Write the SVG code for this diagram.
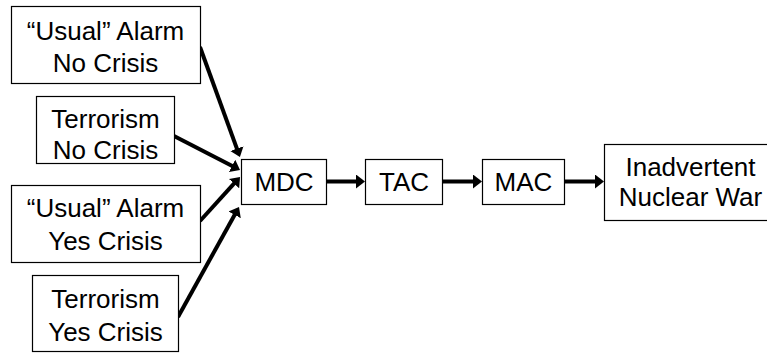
<svg xmlns="http://www.w3.org/2000/svg" width="767" height="353" viewBox="0 0 767 353">
<style>
.box{fill:#fff;stroke:#000;stroke-width:1.2}
.t{font-family:"Liberation Sans",Arial,sans-serif;font-size:26px;fill:#000;text-anchor:middle}
.c{stroke:#000;stroke-width:4;fill:none;marker-end:url(#ah)}
</style>
<defs>
<marker id="ah" markerUnits="userSpaceOnUse" markerWidth="12" markerHeight="14" refX="3" refY="7" orient="auto" viewBox="0 0 12 14">
<path d="M0,0 L9,7 L0,14 z" fill="#000"/>
</marker>
</defs>
<g id="connectors">
<line class="c" x1="200" y1="47" x2="237.9" y2="151.4"/>
<line class="c" x1="174" y1="136" x2="234.7" y2="167.3"/>
<line class="c" x1="200" y1="221" x2="236" y2="181.4"/>
<line class="c" x1="178" y1="317" x2="236.1" y2="212.2"/>
<line class="c" x1="326" y1="181.5" x2="359" y2="181.5"/>
<line class="c" x1="442" y1="181.5" x2="476" y2="181.5"/>
<line class="c" x1="564" y1="181.5" x2="598" y2="181.5"/>
</g>
<g id="usual-no">
<rect class="box" x="11.5" y="6.5" width="189" height="77"/>
<text class="t" x="105.5" y="39.5">“Usual” Alarm</text>
<text class="t" x="105.5" y="71.5">No Crisis</text>
</g>
<g id="terror-no">
<rect class="box" x="36.5" y="96.5" width="138" height="67"/>
<text class="t" x="105.5" y="127.5">Terrorism</text>
<text class="t" x="105.5" y="159">No Crisis</text>
</g>
<g id="usual-yes">
<rect class="box" x="11.5" y="185.5" width="189" height="77"/>
<text class="t" x="105.5" y="217">“Usual” Alarm</text>
<text class="t" x="105.5" y="250">Yes Crisis</text>
</g>
<g id="terror-yes">
<rect class="box" x="32.5" y="275.5" width="146" height="76"/>
<text class="t" x="105.5" y="308">Terrorism</text>
<text class="t" x="105.5" y="341">Yes Crisis</text>
</g>
<g id="mdc">
<rect class="box" x="241.5" y="159.5" width="85" height="45"/>
<text class="t" x="284" y="191">MDC</text>
</g>
<g id="tac">
<rect class="box" x="365.5" y="159.5" width="77" height="45"/>
<text class="t" x="404" y="191">TAC</text>
</g>
<g id="mac">
<rect class="box" x="482.5" y="159.5" width="82" height="45"/>
<text class="t" x="523.5" y="191">MAC</text>
</g>
<g id="war">
<rect class="box" x="604.5" y="144.5" width="172" height="76"/>
<text class="t" x="690.5" y="176">Inadvertent</text>
<text class="t" x="690.5" y="206">Nuclear War</text>
</g>
</svg>
